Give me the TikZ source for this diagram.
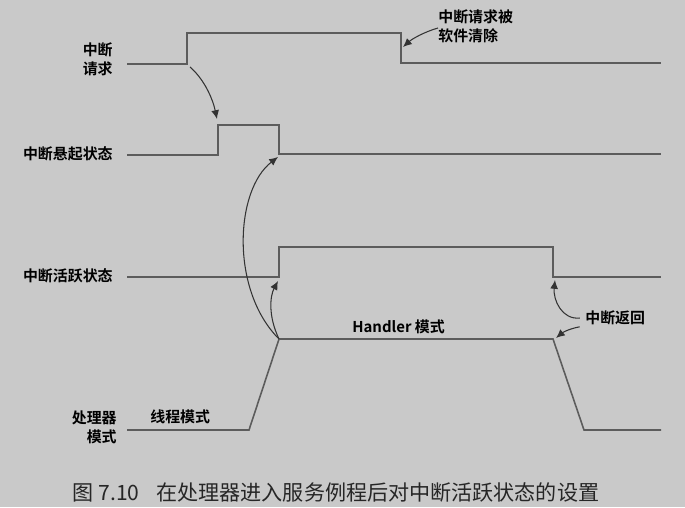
\documentclass[tikz,border=0pt]{standalone}
\usepackage{fontspec}
\setmainfont{Noto Sans CJK SC}
\newfontfamily\cjkbold{Noto Sans CJK SC Bold}
\usetikzlibrary{arrows.meta}

\definecolor{bgray}{HTML}{C9C9C9}
\definecolor{wgray}{HTML}{5C5C5C}
\definecolor{agray}{HTML}{333333}

\tikzset{
  wave/.style={draw=wgray, line width=0.9pt},
  note/.style={draw=agray, line width=0.6pt, -{Latex[length=5pt,width=4.5pt]}},
  lbl/.style={font=\cjkbold\fontsize{8.5}{11}\selectfont, text=black, inner sep=0pt, align=right},
  txt/.style={font=\cjkbold\fontsize{8.5}{11}\selectfont, text=black, inner sep=0pt, align=left},
}

\begin{document}
\begin{tikzpicture}[x=0.02cm, y=-0.02cm]

  % background
  \fill[bgray] (0,0) rectangle (685,507);
  \useasboundingbox (0,0) rectangle (685,507);

  % Signal names
  \node[lbl, anchor=east] (req)     at (113,59)  {中断\\请求};
  \node[lbl, anchor=east] (pend)    at (113,154) {中断悬起状态};
  \node[lbl, anchor=east] (act)     at (113,276) {中断活跃状态};
  \node[lbl, anchor=east] (mode)    at (117,427) {处理器\\模式};

  % Interrupt request
  \coordinate (req-a) at (127,64);
  \coordinate (req-r) at (187,64);
  \coordinate (req-f) at (401,33);
  \coordinate (req-e) at (661,63);
  \draw[wave] (req-a) -- (req-r) |- (req-f) |- (req-e);

  % Pending state
  \coordinate (pend-a) at (127,155);
  \coordinate (pend-r) at (218,155);
  \coordinate (pend-f) at (279,125);
  \coordinate (pend-e) at (661,154);
  \draw[wave] (pend-a) -- (pend-r) |- (pend-f) |- (pend-e);

  % Active state
  \coordinate (act-a) at (127,277);
  \coordinate (act-r) at (279,277);
  \coordinate (act-f) at (553,247);
  \coordinate (act-e) at (661,277);
  \draw[wave] (act-a) -- (act-r) |- (act-f) |- (act-e);

  % Processor mode
  \coordinate (mode-a) at (127,430);
  \coordinate (mode-b) at (249,430);
  \coordinate (mode-c) at (279,339);
  \coordinate (mode-d) at (553,339);
  \coordinate (mode-e) at (584,430);
  \coordinate (mode-f) at (661,430);
  \draw[wave] (mode-a) -- (mode-b) -- (mode-c) -- (mode-d) -- (mode-e) -- (mode-f);

  % Annotations
  \node[txt, anchor=west] (thread)  at (150,417) {线程模式};
  \node[txt, anchor=west] (handler) at (352,327) {Handler 模式};
  \node[txt, anchor=west] (ret)     at (585,318) {中断返回};
  \node[txt, anchor=west] (clear)   at (438,26)  {中断请求被\\软件清除};

  % Edges
  \draw[note] (190,67) .. controls (205,80) and (213,100) .. (217,119);
  \draw[note] (clear.west |- 0,28) .. controls (424,32) and (412,39) .. (403,47);
  \draw[note] (mode-c) .. controls (230,290) and (235,190) .. (278,157);
  \draw[note] (mode-c) .. controls (268,316) and (270,296) .. (278,281);
  \draw[note] ([xshift=-3pt]ret.west) .. controls (562,320) and (553,300) .. (555,280);
  \draw[note] ([xshift=-3pt,yshift=-5pt]ret.west) .. controls (568,329) and (562,333) .. (556,338);

  % Caption
  \node[font=\fontsize{12}{14}\selectfont, text=black!85, inner sep=0pt] (caption) at (336,492)
    {图 7.10\hspace{0.8em}在处理器进入服务例程后对中断活跃状态的设置};

\end{tikzpicture}
\end{document}
